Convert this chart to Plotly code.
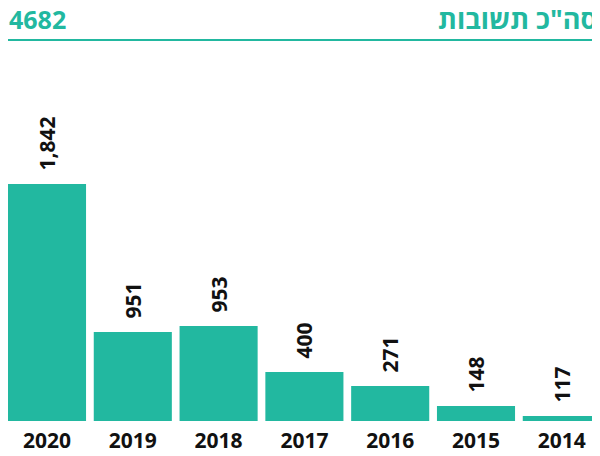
import plotly.graph_objects as go

years = ["2020", "2019", "2018", "2017", "2016", "2015", "2014"]
answers = [1842, 951, 953, 400, 271, 148, 117]
# bar lengths as drawn in the picture (not proportional to the labels), in the same units
bar_heights = [1842, 692, 738, 381, 272, 117, 39]
total_label = "4682"
title_text = "סה\"כ תשובות"

teal = "#22b8a0"
font_family = "Open Sans, DejaVu Sans, sans-serif"

# the page adds an 8px body margin, so figure coords = screen coords - 8
W, H = 592, 448
m_l, m_r, m_t, m_b = 0, 0, 52, 35
plot_h = H - m_t - m_b
plot_w = W - m_l - m_r

fig = go.Figure()
fig.add_trace(go.Bar(
    x=years,
    y=bar_heights,
    text=[f"\u2002{v:,}" for v in answers],
    textposition="outside",
    textangle=-90,
    textfont=dict(family=font_family, size=21, color="#111111", weight="bold"),
    marker=dict(color=teal, line=dict(width=0)),
    width=0.91,
    cliponaxis=False,
    hoverinfo="skip",
))

def py(p):
    return (H - m_b - p) / plot_h

def px(p):
    return (p - m_l) / plot_w

fig.update_layout(
    width=W, height=H,
    margin=dict(l=m_l, r=m_r, t=m_t, b=m_b, autoexpand=False),
    plot_bgcolor="white", paper_bgcolor="white",
    showlegend=False,
    bargap=0.09,
    xaxis=dict(
        type="category",
        range=[-0.4545, -0.4545 + W / 85.8],
        showgrid=False, zeroline=False, showline=False,
        ticks="",
        automargin=False,
        ticklabelstandoff=5,
        tickfont=dict(family=font_family, size=21, color="#111111", weight="bold"),
    ),
    yaxis=dict(
        range=[0, plot_h / (237 / 1842)],
        visible=False,
        automargin=False,
        showgrid=False, zeroline=False,
    ),
    annotations=[
        dict(text=total_label, x=px(0), y=py(10.5),
             xref="paper", yref="paper", xanchor="left", yanchor="middle",
             borderpad=0,
             showarrow=False, font=dict(family=font_family, size=25, color=teal, weight="bold")),
        dict(text=title_text, x=px(590), y=py(10.5),
             xref="paper", yref="paper", xanchor="right", yanchor="middle",
             borderpad=0,
             showarrow=False, font=dict(family=font_family, size=27, color=teal, weight="bold")),
    ],
    shapes=[
        dict(type="line", xref="paper", yref="paper",
             x0=px(0), x1=px(590),
             y0=py(32), y1=py(32),
             line=dict(color=teal, width=2)),
    ],
)

fig.write_html("out.html")
